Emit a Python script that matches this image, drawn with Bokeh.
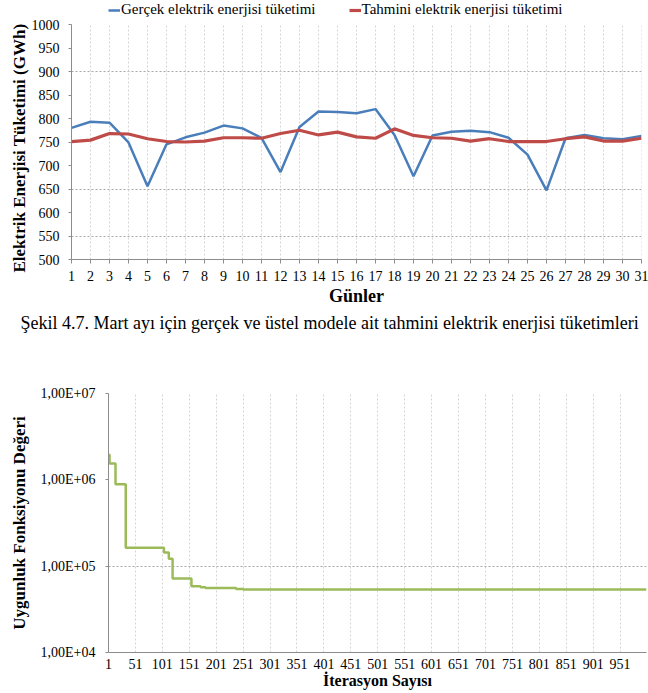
from bokeh.plotting import figure
from bokeh.models import Range1d, FixedTicker, Legend, LegendItem, Title
from bokeh.embed import file_html
from bokeh.resources import INLINE

# ---------------- data: chart 1 (March, daily consumption, GWh) ----------------
days = list(range(1, 32))
gercek = [780, 793, 791, 749, 656, 745, 760, 770, 785, 779, 759, 686, 782, 815, 814,
          811, 820, 765, 677, 764, 772, 774, 771, 759, 723, 647, 758, 765, 758, 756, 763]
tahmini = [751, 754, 768, 767, 757, 751, 750, 752, 759, 759, 758, 768, 775, 765, 771,
           761, 758, 778, 764, 759, 758, 752, 757, 751, 751, 751, 757, 761, 752, 752, 758]
y1_ticks = [500, 550, 600, 650, 700, 750, 800, 850, 900, 950, 1000]
y1_grid = [550, 650, 900]

# ---------------- data: chart 2 (fitness value per iteration) ----------------
iter_steps = [1, 3, 14, 33, 104, 113, 120, 155, 172, 181, 238, 251, 1000]
fitness = [1.95e6, 1.55e6, 8.9e5, 1.63e5, 1.44e5, 1.22e5, 7.2e4, 5.85e4, 5.7e4,
           5.6e4, 5.45e4, 5.35e4, 5.35e4]
iter_ticks = list(range(1, 1000, 50))
fit_ticks = [1e4, 1e5, 1e6, 1e7]
fit_labels = ["1,00E+04", "1,00E+05", "1,00E+06", "1,00E+07"]
fit_grid = [1e5, 1e7]

SERIF = "Liberation Serif"
AXIS_GRAY = "#8c8c8c"
GRID_GRAY = "#a8a8a8"
VGRID_GRAY = "#d4d4d4"


def style_axes(p, title_size):
    for ax in (p.xaxis[0], p.yaxis[0]):
        ax.axis_line_color = AXIS_GRAY
        ax.major_tick_line_color = AXIS_GRAY
        ax.minor_tick_line_color = None
        ax.major_tick_in = 0
        ax.major_label_text_font = SERIF
        ax.major_label_text_font_size = "14px"
        ax.major_label_text_color = "black"
        ax.axis_label_text_font = SERIF
        ax.axis_label_text_font_style = "bold"
        ax.axis_label_text_font_size = title_size
        ax.axis_label_text_color = "black"


# ================= chart 1 =================
y_top = 1000 + 24 / 0.47   # a little head-room above 1000 for the legend
p1 = figure(width=648, height=345, x_range=Range1d(1, 31), y_range=Range1d(500, y_top),
            output_backend="svg", toolbar_location=None,
            min_border_left=71, min_border_right=7, min_border_top=0, min_border_bottom=86,
            outline_line_color=None, background_fill_color="white", border_fill_color="white")

p1.xaxis.ticker = FixedTicker(ticks=days)
p1.yaxis.ticker = FixedTicker(ticks=y1_ticks)
p1.yaxis.bounds = (min(y1_ticks), max(y1_ticks))
p1.xgrid.visible = False
p1.ygrid.ticker = FixedTicker(ticks=y1_grid)
p1.ygrid.grid_line_color = GRID_GRAY
p1.ygrid.grid_line_dash = "2 2"
style_axes(p1, "17px")
p1.xaxis.axis_label_text_font_size = "18px"

# vertical day grid lines, limited to the value axis span
p1.segment(x0=days, y0=[min(y1_ticks)] * len(days), x1=days, y1=[max(y1_ticks)] * len(days),
           line_color=VGRID_GRAY, line_dash="2 2", line_width=1)

p1.xaxis.major_tick_out = 4
p1.xaxis.major_label_standoff = 7
p1.xaxis.axis_label = "Günler"
p1.xaxis.axis_label_standoff = 2
p1.yaxis.major_tick_out = 3
p1.yaxis.major_label_standoff = 9

# value-axis title, placed on the 500..1000 span (not on the legend head-room)
ytitle = Title(text="Elektrik Enerjisi Tüketimi (GWh)", align="left", offset=-13,
               text_font=SERIF, text_font_size="17px", text_font_style="bold",
               text_color="black", standoff=0)
p1.add_layout(ytitle, "left")

r_g = p1.line(days, gercek, line_color="#4A7EBB", line_width=2.5)
r_t = p1.line(days, tahmini, line_color="#BE4B48", line_width=3.2)

legend = Legend(items=[LegendItem(label="Gerçek elektrik enerjisi tüketimi", renderers=[r_g]),
                       LegendItem(label="Tahmini elektrik enerjisi tüketimi", renderers=[r_t])],
                orientation="horizontal", location=(37, 241),
                glyph_width=12, glyph_height=14, label_height=14, label_standoff=1, spacing=33,
                padding=0, margin=0, border_line_color=None, background_fill_alpha=0)
legend.label_text_font = "Times New Roman"
legend.label_text_font_size = "15px"
legend.label_text_font_style = "normal"
legend.label_text_color = "black"
p1.add_layout(legend, "center")

caption = Title(text="Şekil 4.7. Mart ayı için gerçek ve üstel modele ait tahmini elektrik enerjisi tüketimleri",
                align="left", offset=-51, text_font=SERIF, text_font_size="18px",
                text_font_style="normal", text_color="black", standoff=5)
p1.add_layout(caption, "below")

# ================= chart 2 =================
p2 = figure(width=648, height=348, x_range=Range1d(1, 1000), y_range=Range1d(1e4, 1e7),
            y_axis_type="log", output_backend="svg", toolbar_location=None,
            min_border_left=108, min_border_right=2, min_border_top=48, min_border_bottom=41,
            outline_line_color=None, background_fill_color="white", border_fill_color="white")

p2.xaxis.ticker = FixedTicker(ticks=iter_ticks)
p2.yaxis.ticker = FixedTicker(ticks=fit_ticks)
p2.yaxis.major_label_overrides = {t: s for t, s in zip(fit_ticks, fit_labels)}
p2.xgrid.ticker = FixedTicker(ticks=iter_ticks)
p2.ygrid.ticker = FixedTicker(ticks=fit_grid)
p2.xgrid.grid_line_color = VGRID_GRAY
p2.xgrid.grid_line_dash = "2 2"
p2.ygrid.grid_line_color = GRID_GRAY
p2.ygrid.grid_line_dash = "2 2"
style_axes(p2, "17px")
p2.xaxis.axis_label_text_font_size = "16px"

p2.xaxis.major_tick_out = 0
p2.xaxis.major_label_standoff = 6
p2.xaxis.axis_label = "İterasyon Sayısı"
p2.xaxis.axis_label_standoff = 0
p2.yaxis.major_tick_out = 3
p2.yaxis.major_label_standoff = 10
p2.yaxis.axis_label = "Uygunluk Fonksiyonu Değeri"
p2.yaxis.axis_label_standoff = 9

p2.step(iter_steps, fitness, mode="after", line_color="#9BBB59", line_width=2.5)

open("out.html", "w").write(file_html([p1, p2], INLINE))
